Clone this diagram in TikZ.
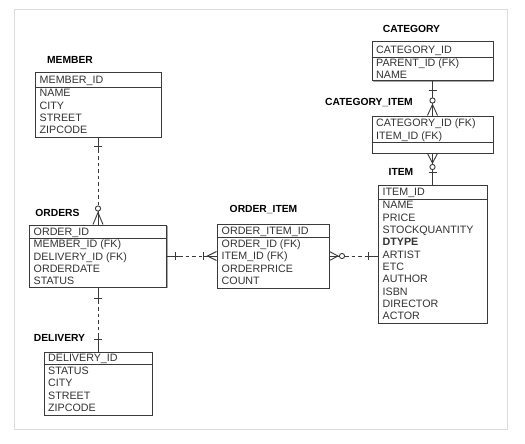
\documentclass[tikz,border=0pt]{standalone}
\usepackage{fontspec}
\setmainfont{Liberation Sans}
\usetikzlibrary{calc,shadows}
\definecolor{boxc}{HTML}{3A3A3A}
\definecolor{txtc}{HTML}{333333}
\definecolor{framec}{HTML}{DCDCDC}
\tikzset{
  tbl/.style={draw=boxc, line width=1pt, fill=white, inner sep=0pt,
    drop shadow={shadow xshift=1.4pt, shadow yshift=-1.4pt, fill=black, opacity=0.35}},
  rowtxt/.style={font=\fontsize{10.7}{12}\selectfont, text=txtc, inner sep=0pt,
    anchor=west, text height=7.7pt, text depth=0pt},
  headtxt/.style={font=\fontsize{10.3}{12}\selectfont\bfseries, text=black, inner sep=0pt,
    text height=7.5pt, text depth=0pt},
  conn/.style={draw=boxc, line width=0.9pt},
  dashconn/.style={conn, dash pattern=on 3.5pt off 3pt},
}
\begin{document}
\begin{tikzpicture}[x=1pt,y=-1pt]
\useasboundingbox (0,0) rectangle (525,444);
\draw[framec, line width=0.8pt] (14,9) rectangle (507,429);

% ---------- tables ----------
\node[tbl, minimum width=126pt, minimum height=64pt] (member) at (98,105) {};
\node[tbl, minimum width=137pt, minimum height=62pt] (orders) at (98,256) {};
\node[tbl, minimum width=108pt, minimum height=63pt] (delivery) at (98,383.5) {};
\node[tbl, minimum width=112pt, minimum height=64pt] (orderitem) at (273,256) {};
\node[tbl, minimum width=109pt, minimum height=138pt] (item) at (432.5,254) {};
\node[tbl, minimum width=121pt, minimum height=39pt] (category) at (432.5,61.5) {};
\node[tbl, minimum width=121pt, minimum height=37pt] (catitem) at (432.5,134.5) {};

% dividers
\draw[conn] (member.west |- 0,87) -- (member.east |- 0,87);
\draw[conn] (orders.west |- 0,238) -- (orders.east |- 0,238);
\draw[conn] (delivery.west |- 0,364) -- (delivery.east |- 0,364);
\draw[conn] (orderitem.west |- 0,237) -- (orderitem.east |- 0,237);
\draw[conn] (item.west |- 0,199) -- (item.east |- 0,199);
\draw[conn] (category.west |- 0,57) -- (category.east |- 0,57);
\draw[conn] (catitem.west |- 0,142) -- (catitem.east |- 0,142);

% headings
\node[headtxt] (hmember) at (70,60) {MEMBER};
\node[headtxt] (horders) at (57.5,213) {ORDERS};
\node[headtxt] (hdelivery) at (59.5,338) {DELIVERY};
\node[headtxt] (horderitem) at (263.5,209) {ORDER\_ITEM};
\node[headtxt] (hitem) at (401,172) {ITEM};
\node[headtxt] (hcategory) at (411.5,29) {CATEGORY};
\node[headtxt] (hcatitem) at (369,102) {CATEGORY\_ITEM};

% rows: MEMBER
\node[rowtxt] (m0) at (39.5,80) {MEMBER\_ID};
\foreach \t [count=\i from 0] in {NAME,CITY,STREET,ZIPCODE}
  \node[rowtxt] (m\t) at (39.5,93+12.33*\i) {\t};
% ORDERS
\node[rowtxt] (o0) at (33.5,231.5) {ORDER\_ID};
\foreach \t [count=\i from 0] in {MEMBER\_ID (FK),DELIVERY\_ID (FK),ORDERDATE,STATUS}
  \node[rowtxt] (o\i) at (33.5,244+12.33*\i) {\t};
% DELIVERY
\node[rowtxt] (d0) at (48,358) {DELIVERY\_ID};
\foreach \t [count=\i from 0] in {STATUS,CITY,STREET,ZIPCODE}
  \node[rowtxt] (d\i) at (48,370.5+12.33*\i) {\t};
% ORDER_ITEM
\node[rowtxt] (oi0) at (221.5,230.5) {ORDER\_ITEM\_ID};
\foreach \t [count=\i from 0] in {ORDER\_ID (FK),ITEM\_ID (FK),ORDERPRICE,COUNT}
  \node[rowtxt] (oi\i) at (221.5,243.5+12.33*\i) {\t};
% ITEM
\node[rowtxt] (i0) at (382.5,192) {ITEM\_ID};
\foreach \t [count=\i from 0] in {NAME,PRICE,STOCKQUANTITY,{\textbf{DTYPE}},ARTIST,ETC,AUTHOR,ISBN,DIRECTOR,ACTOR}
  \node[rowtxt] (i\i) at (382.5,205+12.33*\i) {\t};
% CATEGORY
\node[rowtxt] (c0) at (376,49.5) {CATEGORY\_ID};
\node[rowtxt] (c1) at (376,63) {PARENT\_ID (FK)};
\node[rowtxt] (c2) at (376,75) {NAME};
% CATEGORY_ITEM
\node[rowtxt] (ci0) at (376,123) {CATEGORY\_ID (FK)};
\node[rowtxt] (ci1) at (376,135.5) {ITEM\_ID (FK)};

% ---------- connectors ----------
% MEMBER -> ORDERS (one to zero-or-many)
\draw[conn] (member.south) -- ($(member.south)+(0,12)$);
\draw[dashconn] ($(member.south)+(0,12)$) -- ($(orders.north)+(0,-19)$);
\draw[conn] ($(member.south)+(-4,9)$) -- ($(member.south)+(4,9)$);
\draw[conn] (orders.north) -- ($(orders.north)+(0,-13.5)$);
\draw[conn] ($(orders.north)+(-5,0)$) -- ($(orders.north)+(0,-12)$) -- ($(orders.north)+(5,0)$);
\draw[conn, fill=white] ($(orders.north)+(0,-16)$) circle (2.6);

% ORDERS -> DELIVERY (one to one)
\draw[conn] (orders.south) -- ($(orders.south)+(0,13)$);
\draw[dashconn] ($(orders.south)+(0,13)$) -- ($(delivery.north)+(0,-15)$);
\draw[conn] ($(delivery.north)+(0,-15)$) -- (delivery.north);
\draw[conn] ($(orders.south)+(-4,10.5)$) -- ($(orders.south)+(4,10.5)$);
\draw[conn] ($(delivery.north)+(-4,-12)$) -- ($(delivery.north)+(4,-12)$);

% ORDERS -> ORDER_ITEM (one to one-or-many)
\draw[conn] (orders.east) -- ($(orders.east)+(12,0)$);
\draw[dashconn] ($(orders.east)+(12,0)$) -- ($(orderitem.west)+(-14,0)$);
\draw[conn] ($(orderitem.west)+(-14,0)$) -- (orderitem.west);
\draw[conn] ($(orders.east)+(8.5,-4)$) -- ($(orders.east)+(8.5,4)$);
\draw[conn] ($(orderitem.west)+(-13,-4)$) -- ($(orderitem.west)+(-13,4)$);
\draw[conn] ($(orderitem.west)+(0,-4.5)$) -- ($(orderitem.west)+(-9,0)$) -- ($(orderitem.west)+(0,4.5)$);

% ORDER_ITEM -> ITEM (zero-or-many to one)
\coordinate (itemleft) at (orderitem.east -| item.west);
\draw[conn] (orderitem.east) -- ($(orderitem.east)+(10,0)$);
\draw[conn] ($(orderitem.east)+(0,-4.5)$) -- ($(orderitem.east)+(8.5,0)$) -- ($(orderitem.east)+(0,4.5)$);
\draw[conn, fill=white] ($(orderitem.east)+(12.5,0)$) circle (2.6);
\draw[dashconn] ($(orderitem.east)+(15.5,0)$) -- ($(itemleft)+(-11,0)$);
\draw[conn] ($(itemleft)+(-11,0)$) -- (itemleft);
\draw[conn] ($(itemleft)+(-9.5,-4)$) -- ($(itemleft)+(-9.5,4)$);

% CATEGORY -> CATEGORY_ITEM (one to zero-or-many)
\draw[conn] (category.south) -- ($(catitem.north)+(0,-16)$);
\draw[conn] ($(category.south)+(-4,9)$) -- ($(category.south)+(4,9)$);
\draw[conn, fill=white] ($(catitem.north)+(0,-15)$) circle (2.6);
\draw[conn] ($(catitem.north)+(0,-12.4)$) -- (catitem.north);
\draw[conn] ($(catitem.north)+(-5,0)$) -- ($(catitem.north)+(0,-11)$) -- ($(catitem.north)+(5,0)$);

% CATEGORY_ITEM -> ITEM (zero-or-many to one)
\draw[conn] (catitem.south) -- ($(catitem.south)+(0,11)$);
\draw[conn] ($(catitem.south)+(-5,0)$) -- ($(catitem.south)+(0,9.5)$) -- ($(catitem.south)+(5,0)$);
\draw[conn, fill=white] ($(catitem.south)+(0,13.5)$) circle (2.6);
\draw[conn] ($(catitem.south)+(0,16)$) -- (item.north);
\draw[conn] ($(item.north)+(-4,-12)$) -- ($(item.north)+(4,-12)$);
\end{tikzpicture}
\end{document}
